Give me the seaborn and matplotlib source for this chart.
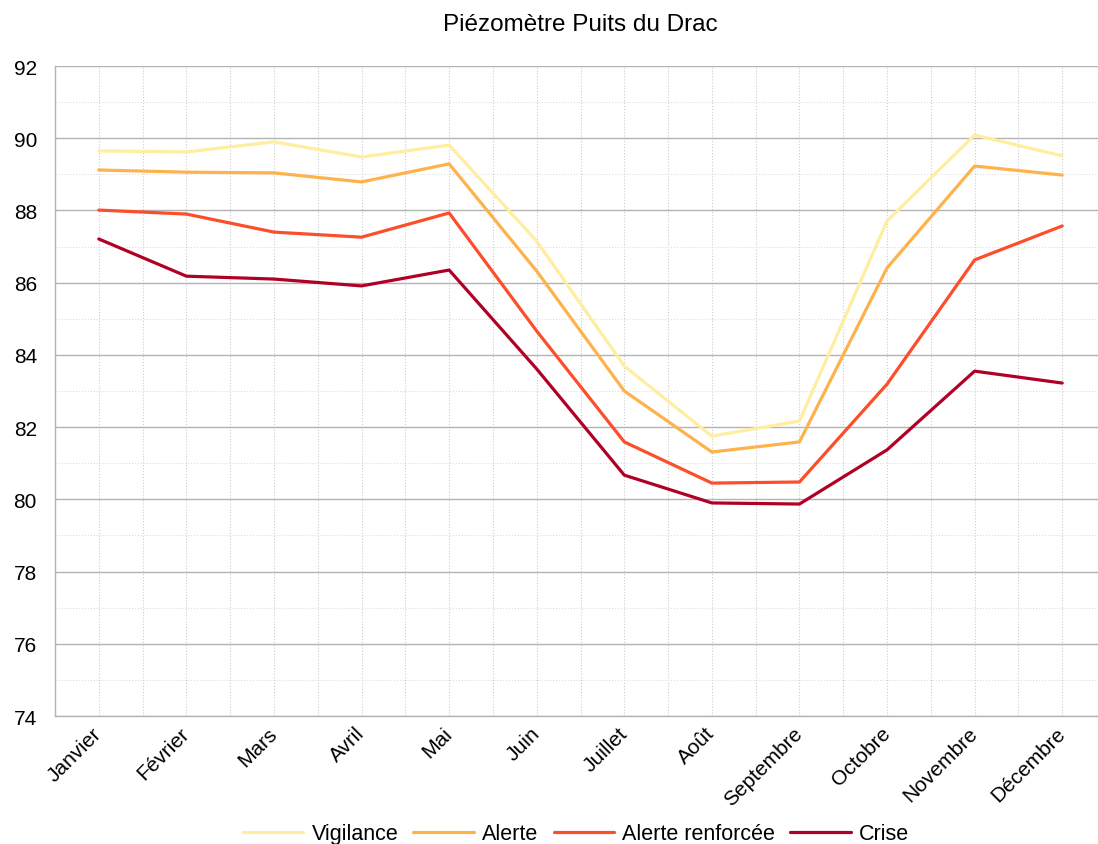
import matplotlib
matplotlib.use("Agg")
import matplotlib.pyplot as plt
import seaborn as sns
import pandas as pd
from matplotlib.ticker import MultipleLocator

months = ["Janvier", "Février", "Mars", "Avril", "Mai", "Juin", "Juillet",
          "Août", "Septembre", "Octobre", "Novembre", "Décembre"]

vigilance = [89.65, 89.62, 89.90, 89.48, 89.81, 87.15, 83.69, 81.75, 82.17, 87.71, 90.09, 89.51]
alerte = [89.12, 89.06, 89.04, 88.79, 89.29, 86.32, 83.00, 81.31, 81.59, 86.41, 89.23, 88.98]
alerte_renforcee = [88.01, 87.90, 87.40, 87.26, 87.93, 84.66, 81.59, 80.45, 80.48, 83.19, 86.63, 87.57]
crise = [87.21, 86.18, 86.10, 85.91, 86.35, 83.61, 80.67, 79.90, 79.87, 81.37, 83.55, 83.22]

series_names = ["Vigilance", "Alerte", "Alerte renforcée", "Crise"]
colors = ["#ffeda0", "#feb24c", "#fc4e2a", "#b10026"]

frames = []
for name, vals in zip(series_names, [vigilance, alerte, alerte_renforcee, crise]):
    frames.append(pd.DataFrame({"mois": months, "niveau": vals, "seuil": name}))
df = pd.concat(frames, ignore_index=True)

sns.set_style("white")
plt.rcParams["font.family"] = ["Liberation Sans", "DejaVu Sans"]
plt.rcParams["text.color"] = "black"
plt.rcParams["xtick.color"] = "black"
plt.rcParams["ytick.color"] = "black"

fig = plt.figure(figsize=(10.98, 8.45), dpi=100)
ax = fig.add_axes([55 / 1098, 1 - 717 / 845, (1106 - 55) / 1098, 650 / 845])

sns.lineplot(data=df, x="mois", y="niveau", hue="seuil", hue_order=series_names,
             palette=colors, linewidth=2.3, sort=False, ax=ax, legend=True)

ax.set_xlim(-0.5, 11.5)
ax.set_ylim(74, 92)
ax.yaxis.set_major_locator(MultipleLocator(2))
ax.yaxis.set_minor_locator(MultipleLocator(1))
ax.set_xticks(range(len(months)))
ax.set_xticks([i + 0.5 for i in range(-1, 12)], minor=True)

ax.grid(axis="y", which="major", color="#b3b3b3", linewidth=1, linestyle="-")
ax.grid(axis="y", which="minor", color="#dddddd", linewidth=0.8, linestyle=":")
ax.grid(axis="x", which="both", color="#cccccc", linewidth=0.8, linestyle=":")
ax.set_axisbelow(True)

for side in ["top", "right"]:
    ax.spines[side].set_visible(False)
for side in ["left", "bottom"]:
    ax.spines[side].set_color("#b3b3b3")
    ax.spines[side].set_linewidth(1)

ax.tick_params(axis="y", which="major", length=9, color="#b3b3b3", labelcolor="black",
               labelsize=15, pad=4)
ax.tick_params(axis="y", which="minor", length=0)
ax.tick_params(axis="x", which="both", length=0, labelcolor="black", labelsize=15, pad=10)
plt.setp(ax.get_xticklabels(), rotation=45, ha="right", va="center", rotation_mode="anchor")

ax.set_xlabel("")
ax.set_ylabel("")
ax.set_title("Piézomètre Puits du Drac", fontsize=17.5, pad=26, color="black")

# legend centred under the plot area (which runs past the right edge)
handles, labels = ax.get_legend_handles_labels()
ax.get_legend().remove()
fig.legend(handles, labels, loc="center", bbox_to_anchor=(576 / 1098, 10 / 845), ncol=4,
           frameon=False, fontsize=15.5, handlelength=2.8, columnspacing=0.7,
           handletextpad=0.4, labelcolor="black")

fig.savefig("out.png", dpi=100)
